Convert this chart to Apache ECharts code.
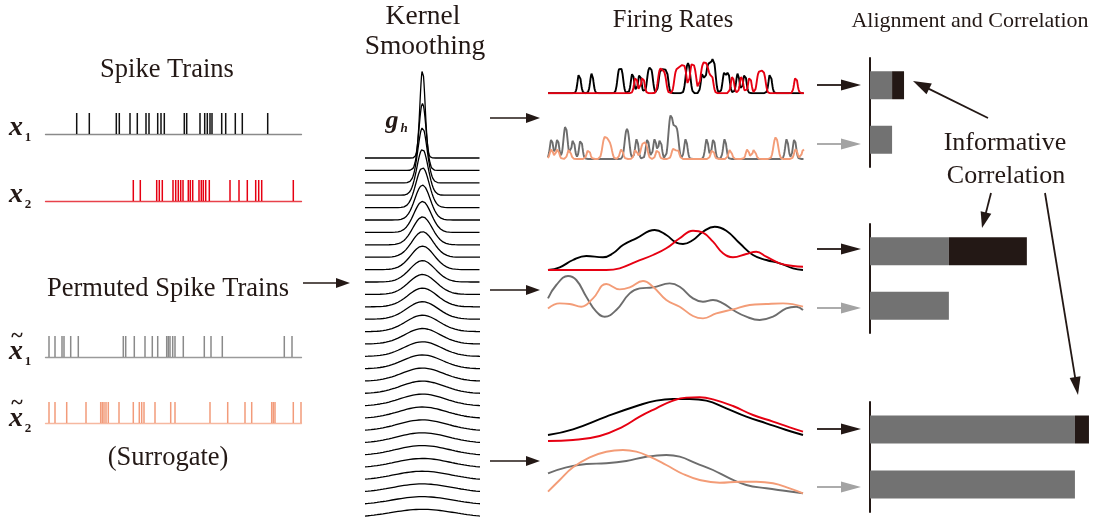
<!DOCTYPE html>
<html><head><meta charset="utf-8">
<script src="https://cdn.jsdelivr.net/npm/echarts@6/dist/echarts.min.js"></script>
<style>html,body{margin:0;padding:0;background:#fff}#c{width:1101px;height:521px}</style>
</head><body><div id="c"></div>
<script>
// ---------------- data ----------------
// spike times (time units 0..256)
const spikeX1 = [31.2,43.8,70.8,73.8,84.5,91.8,100.5,103.5,112.2,115.5,118.8,138.8,141.2,154.5,159.2,161.8,164.5,166.5,176.2,180.2,189.8,196.8,222.2];
const spikeX2 = [87.8,94.8,111.2,113.8,116.8,127.5,130.2,132.8,135.2,137.5,142.8,144.8,147.2,153.5,155.8,157.8,160.2,163.8,184.5,193.5,201.8,210.2,213.2,216.2,247.8];
const spikeS1 = [3.5,9.5,16.5,18.5,25.2,32.8,77.8,80.2,88.8,99.5,106.8,112.2,121.2,122.8,124.5,127.2,129.5,137.8,158.8,165.5,176.8,238.8,246.5];
const spikeS2 = [3.5,9.5,21.2,40.5,55.2,56.8,58.5,60.5,62.8,73.5,87.8,93.8,96.2,98.5,109.5,125.2,129.5,164.5,182.2,199.5,206.2,226.2,227.8,229.5,247.8,255.5];

// kernel family: bandwidth and peak height (in level units) for each row
const kernelBandwidths = [2.6,3.6,4.6,5.6,6.6,7.6,8.6,9.6,10.6,11.6,12.6,13.6,14.6,15.6,16.6,17.6,18.6,19.6,20.6,21.6,22.6,23.6,24.6,25.6,26.6,27.6,28.6,29.6,30.6,31.6];
const kernelPeaks = [7.10,5.40,4.44,3.71,3.23,2.82,2.50,2.26,2.06,1.90,1.73,1.61,1.51,1.41,1.32,1.25,1.18,1.12,1.06,1.01,0.96,0.92,0.88,0.84,0.81,0.77,0.74,0.72,0.69,0.67];

// narrow-kernel firing rates are smoothed spike trains: kernel width and single-spike peak heights
const narrowSigma = 1.6;
const narrowAmp = {x1: 20, x2: 17, s1: 20, s2: 10};

// medium bandwidth firing rates [t, rate]
const midBlack = [[0,0],[11.7,2.7],[25,10],[38.3,14],[55,12.7],[65,16.7],[75,25],[88.3,31.7],[106.7,40],[118.3,35],[128.3,27.3],[135,26],[145,30],[155,38.3],[166.7,43.3],[178.3,39.3],[191.7,26.7],[205,15],[218.3,10],[231.7,6.7],[245,1.7],[255,0]];
const midRed = [[0,0],[25,0],[58.3,0],[71.7,1.7],[88.3,8.3],[105,15],[118.3,21.7],[131.7,31.7],[145,39.3],[155,37.3],[165,28.3],[175,16.7],[185,12.7],[198.3,16],[208.3,18.3],[218.3,13.3],[231.7,6.7],[245,4],[255,3.3]];
const midGray = [[0,23.3],[8.3,36.7],[20,45.7],[28.3,41.7],[38.3,25],[48.3,10],[56.7,5],[68.3,11.7],[81.7,28.3],[91.7,33.3],[105,34.3],[121.7,38.3],[131.7,35],[145,23.3],[155,20],[165,21.7],[175,18.3],[185,11.7],[198.3,5],[211.7,1.7],[225,5],[238.3,13.3],[248.3,15],[255,11.7]];
const midSalmon = [[0,13.3],[11.7,18.3],[21.7,17.7],[33.3,15],[45,23.3],[58.3,37.7],[71.7,32.3],[81.7,34.3],[95,40.7],[105,35],[118.3,21.7],[131.7,15],[145,5.7],[155,3.3],[168.3,8.3],[185,12.3],[201.7,16.7],[218.3,17.7],[235,18.3],[255,15]];

// wide bandwidth firing rates [t, rate]
const wideBlack = [[0,8.3],[25,14],[58.3,26.7],[91.7,38.3],[108.3,42.7],[125,44.3],[141.7,44.3],[158.3,42.7],[178.3,35],[198.3,26.7],[218.3,20],[238.3,13.3],[255,8.3]];
const wideRed = [[0,2.3],[25,3.3],[51.7,7.3],[75,16.7],[91.7,26.7],[108.3,35],[125,42.7],[138.3,45.7],[151.7,46],[165,44],[185,37.3],[205,28.3],[225,21.7],[241.7,16],[255,11.7]];
const wideGray = [[0,21.7],[18.3,27.7],[38.3,31],[58.3,31.7],[78.3,34],[98.3,38.3],[118.3,40],[131.7,38.3],[148.3,31.7],[165,25],[181.7,16.7],[198.3,10],[218.3,6.7],[238.3,4],[255,1.7]];
const wideSalmon = [[0,3.3],[11.7,15],[25,27.7],[41.7,37.7],[58.3,43.3],[75,45],[88.3,43.3],[101.7,38.3],[118.3,30],[135,21],[151.7,15],[171.7,12.3],[191.7,13.3],[208.3,13.3],[225,11.7],[241.7,6.7],[255,1.7]];

// correlation bars (narrow, medium, wide bandwidth)
const barCategories = ['original', 'surrogate'];
const surrogateCorr = [0.096, 0.343, 0.891];
const informativeCorr = [0.052, 0.339, 0.061];

// ---------------- colours ----------------
const C = {
  ink: '#231815', black: '#000000', red: '#e60012', gray: '#6d6d6d', salmon: '#f39c77',
  spikeGray: '#8a8a8a', spikeSalmon: '#f29b7a', barGray: '#727272', arrowGray: '#a3a3a3'
};
const SERIF = '"Liberation Serif", "DejaVu Serif", serif';

// ---------------- layout ----------------
const grids = [], xAxes = [], yAxes = [], series = [];
function addGrid(g, xa, ya) {
  grids.push(Object.assign({containLabel: false}, g));
  const i = grids.length - 1;
  xAxes.push(Object.assign({gridIndex: i}, xa));
  yAxes.push(Object.assign({gridIndex: i}, ya));
  return i;
}
const hiddenVal = (min, max, extra) => Object.assign({type: 'value', min, max, show: false}, extra || {});

// spike trains
function spikeTrain(spikes, top, spikeColor, baseColor) {
  const gi = addGrid({left: 45.5, width: 256, top, height: 21},
    {type: 'value', min: 0, max: 256, position: 'bottom',
     axisLine: {show: true, onZero: false, lineStyle: {color: baseColor, width: 1.3}},
     axisTick: {show: false}, axisLabel: {show: false}, splitLine: {show: false}},
    hiddenVal(0, 1));
  series.push({
    type: 'custom', xAxisIndex: gi, yAxisIndex: gi, silent: true,
    data: spikes.map(t => [t]),
    encode: {x: 0},
    renderItem: (params, api) => {
      const b = api.coord([api.value(0), 0]);
      const t = api.coord([api.value(0), 1]);
      return {type: 'line', shape: {x1: b[0], y1: b[1], x2: t[0], y2: t[1]},
              style: {stroke: spikeColor, lineWidth: 1.5}};
    }
  });
}
spikeTrain(spikeX1, 113, '#111111', '#8a8a8a');
spikeTrain(spikeX2, 180, C.red, '#e8414a');
spikeTrain(spikeS1, 336, C.spikeGray, '#9a9a9a');
spikeTrain(spikeS2, 402, C.spikeSalmon, '#f6b8a0');

// kernel family
const kgi = addGrid({left: 365, width: 115, top: 58.8, height: 461.3},
  hiddenVal(-57.5, 57.5), hiddenVal(-8, 29.2, {inverse: true}));
const kx = [];
for (let x = -57.5; x <= 57.5001; x += 0.5) kx.push(x);
kernelBandwidths.forEach((s, k) => {
  series.push({
    type: 'line', xAxisIndex: kgi, yAxisIndex: kgi, showSymbol: false, silent: true,
    lineStyle: {color: C.black, width: 1.3},
    data: kx.map(x => [x, k - kernelPeaks[k] * Math.exp(-x * x / (2 * s * s))])
  });
});

// firing-rate panels
function rateGrid(zeroY) {
  return addGrid({left: 548, width: 256, top: zeroY - 48, height: 48},
    hiddenVal(0, 256), hiddenVal(0, 48));
}
function smoothRate(spikes, amp) {
  const out = [];
  for (let t = 0; t <= 256; t += 0.5) {
    let v = 0;
    for (const s of spikes) v += amp * Math.exp(-(t - s) * (t - s) / (2 * narrowSigma * narrowSigma));
    out.push([t, v]);
  }
  return out;
}
function rateLine(gi, data, color, smooth) {
  series.push({type: 'line', xAxisIndex: gi, yAxisIndex: gi, showSymbol: false, silent: true,
    smooth: smooth ? 0.45 : false, lineStyle: {color, width: 1.9}, data});
}
const gTopA = rateGrid(93.3), gTopB = rateGrid(159);
const gMidA = rateGrid(270), gMidB = rateGrid(321.7);
const gWideA = rateGrid(443.3), gWideB = rateGrid(495);
rateLine(gTopA, smoothRate(spikeX1, narrowAmp.x1), C.black, false);
rateLine(gTopA, smoothRate(spikeX2, narrowAmp.x2), C.red, false);
rateLine(gTopB, smoothRate(spikeS1, narrowAmp.s1), C.gray, false);
rateLine(gTopB, smoothRate(spikeS2, narrowAmp.s2), C.salmon, false);
rateLine(gMidA, midBlack, C.black, true);
rateLine(gMidA, midRed, C.red, true);
rateLine(gMidB, midGray, C.gray, true);
rateLine(gMidB, midSalmon, C.salmon, true);
rateLine(gWideA, wideBlack, C.black, true);
rateLine(gWideA, wideRed, C.red, true);
rateLine(gWideB, wideGray, C.gray, true);
rateLine(gWideB, wideSalmon, C.salmon, true);

// correlation bars
[58, 224, 402].forEach((top, i) => {
  const gi = addGrid({left: 870, width: 230, top, height: [109, 109, 110][i]},
    hiddenVal(0, 1),
    {type: 'category', data: barCategories, inverse: true,
     axisLine: {show: true, lineStyle: {color: C.ink, width: 2}},
     axisTick: {show: false}, axisLabel: {show: false}, splitLine: {show: false}});
  series.push({type: 'bar', xAxisIndex: gi, yAxisIndex: gi, stack: 's' + i, barWidth: 28, silent: true,
    itemStyle: {color: C.barGray}, data: [surrogateCorr[i], surrogateCorr[i]]});
  series.push({type: 'bar', xAxisIndex: gi, yAxisIndex: gi, stack: 's' + i, barWidth: 28, silent: true,
    itemStyle: {color: C.ink}, data: [informativeCorr[i], 0]});
});

// ---------------- annotations ----------------
const gfx = [];
function text(str, x, y, size, opts) {
  gfx.push({type: 'text', x, y, silent: true, style: Object.assign({
    text: str, fill: C.ink, font: (opts && opts.font) || ('normal ' + size + 'px ' + SERIF),
    textAlign: 'center', textVerticalAlign: 'middle'}, opts && opts.style)});
}
function arrow(x1, y1, x2, y2, color, lw, hl, hw) {
  const a = Math.atan2(y2 - y1, x2 - x1);
  const bx = x2 - hl * Math.cos(a), by = y2 - hl * Math.sin(a);
  const px = -Math.sin(a) * hw, py = Math.cos(a) * hw;
  gfx.push({type: 'line', silent: true, shape: {x1, y1, x2: bx + (hl * 0.2) * Math.cos(a), y2: by + (hl * 0.2) * Math.sin(a)},
            style: {stroke: color, lineWidth: lw}});
  gfx.push({type: 'polygon', silent: true, shape: {points: [[x2, y2], [bx + px, by + py], [bx - px, by - py]]},
            style: {fill: color}});
}
function mathLabel(cx, midY, main, sub, tilde, size) {
  text(main, cx, midY, size, {font: 'italic bold ' + size + 'px ' + SERIF});
  text(sub, cx + 12, midY + 10, 13, {font: 'bold 13px ' + SERIF});
  if (tilde) text('~', cx + 1, midY - 16, 22, {font: 'bold 22px ' + SERIF});
}

text('Spike Trains', 167, 70, 26.5);
text('Permuted Spike Trains', 168, 289, 26.5);
text('(Surrogate)', 168, 458, 26.5);
text('Kernel', 423, 17, 27.5);
text('Smoothing', 425, 47, 27.5);
text('Firing Rates', 673, 21, 24.5);
text('Alignment and Correlation', 970, 21, 22);
text('Informative', 1005, 143, 26);
text('Correlation', 1006, 176, 26);

mathLabel(16, 128, 'x', '1', false, 28);
mathLabel(16, 195, 'x', '2', false, 28);
mathLabel(16, 352, 'x', '1', true, 28);
mathLabel(16, 419, 'x', '2', true, 28);
text('g', 392, 121, 26, {font: 'italic bold 26px ' + SERIF});
text('h', 404, 129, 13, {font: 'italic bold 13px ' + SERIF});

arrow(303, 283, 350, 283, C.ink, 1.6, 14, 5);
[118, 290, 461].forEach(y => arrow(490, y, 540, y, C.ink, 1.6, 14, 5));
[85, 249, 429].forEach(y => arrow(817, y, 861, y, C.ink, 1.8, 20, 5.5));
[144, 308, 487].forEach(y => arrow(817, y, 861, y, C.arrowGray, 1.8, 20, 5.5));
arrow(988, 118, 913, 81, C.ink, 1.8, 18, 6);
arrow(991, 193, 982, 228, C.ink, 1.8, 16, 5.5);
arrow(1045, 193, 1078, 395, C.ink, 1.8, 18, 5.5);

const chart = echarts.init(document.getElementById('c'), null, {renderer: 'canvas'});
chart.setOption({
  animation: false, backgroundColor: '#ffffff',
  grid: grids, xAxis: xAxes, yAxis: yAxes, series, graphic: gfx
});
</script></body></html>
